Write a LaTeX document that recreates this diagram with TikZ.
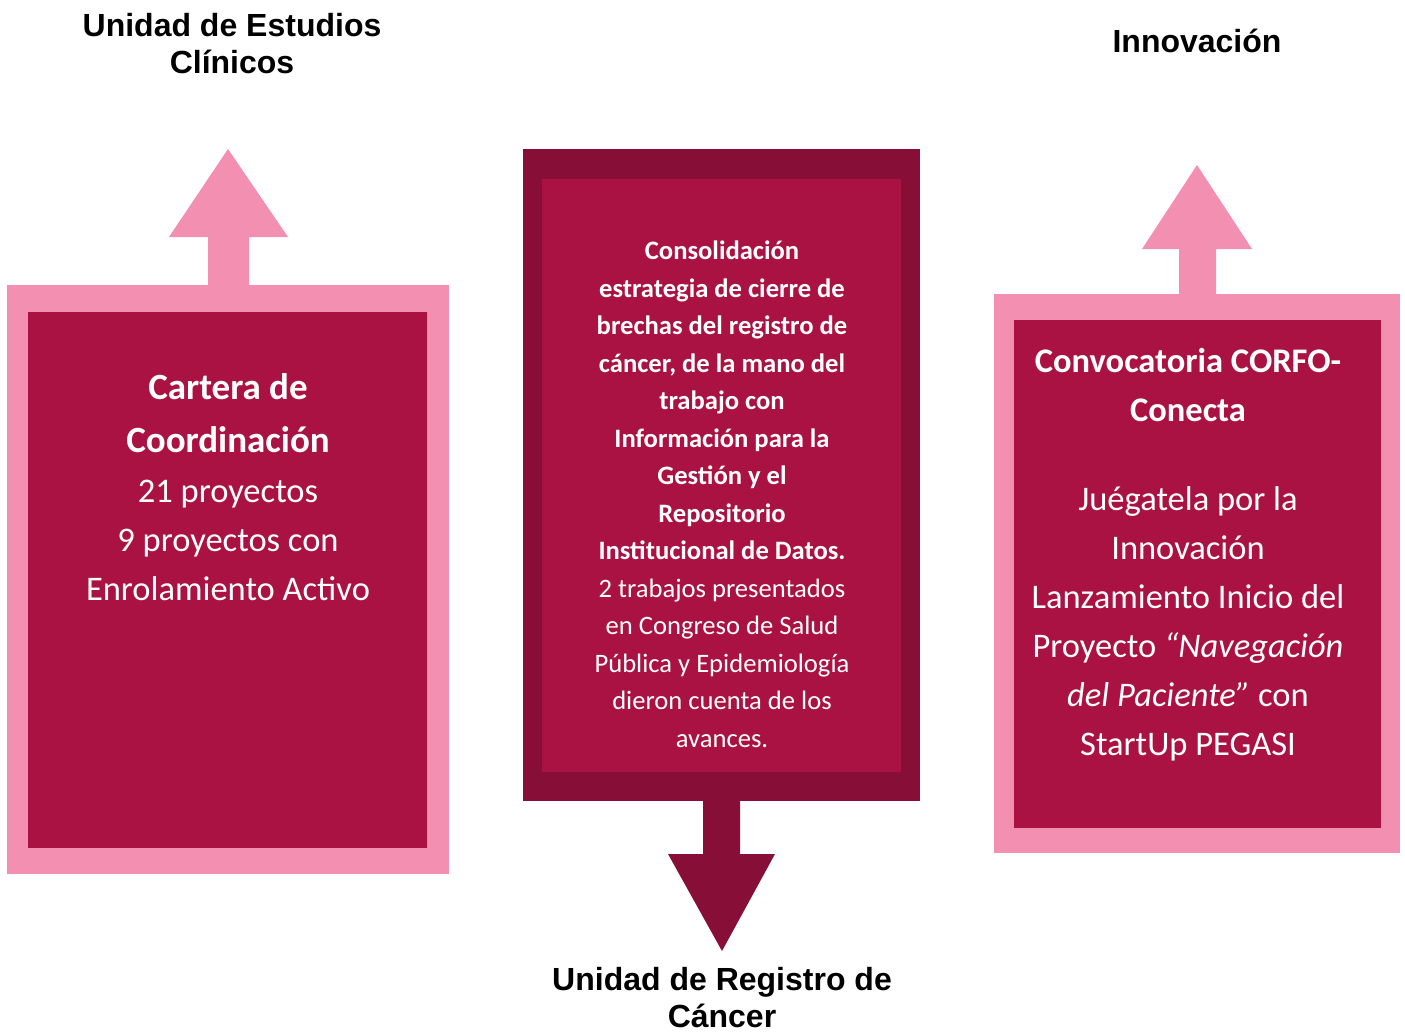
\documentclass[tikz,border=0pt]{standalone}
\usepackage{fontspec}
\setmainfont{Carlito}
\newfontfamily\headfont{Liberation Sans}
\definecolor{pinkc}{HTML}{F38FB0}
\definecolor{crims}{HTML}{AB1244}
\definecolor{darkc}{HTML}{870E36}
\tikzset{
  heading/.style={anchor=base, align=center, text=black, font=\headfont\bfseries\fontsize{32}{37}\selectfont},
  bigtxt/.style={anchor=base, align=center, text=white, font=\fontsize{34.5}{49}\selectfont},
  boldbig/.style={anchor=base, align=center, text=white, font=\bfseries\fontsize{37}{53}\selectfont},
  midtxt/.style={anchor=base, align=center, text=white, font=\fontsize{26.6}{37.5}\selectfont},
}
\begin{document}
\begin{tikzpicture}[x=1pt,y=-1pt]
\useasboundingbox (0,0) rectangle (1405,1031);
% left block
\fill[pinkc] (208,286) -- (208,237) -- (169,237) -- (228,149) -- (288,237) -- (249,237) -- (249,286) -- cycle;
\fill[pinkc] (7,285) rectangle (449,874);
\fill[crims] (28,312) rectangle (427,848);
% middle block
\fill[darkc] (703,800) -- (703,854) -- (668,854) -- (722,951) -- (775,854) -- (740,854) -- (740,800) -- cycle;
\fill[darkc] (523,149) rectangle (920,801);
\fill[crims] (542,179) rectangle (901,772);
% right block
\fill[pinkc] (1179,295) -- (1179,249) -- (1142,249) -- (1197,165) -- (1252,249) -- (1216,249) -- (1216,295) -- cycle;
\fill[pinkc] (994,294) rectangle (1400,853);
\fill[crims] (1014,320) rectangle (1381,828);
% headings (anchor = baseline of last line)
\node[heading] (h1) at (232,73) {Unidad de Estudios\\Clínicos};
\node[heading] (h2) at (1197,52) {Innovación};
\node[heading] (h3) at (722,1027) {Unidad de Registro de\\Cáncer};
% left text
\node[boldbig] (l1) at (228,452) {Cartera de\\Coordinación};
\node[bigtxt] (l2) at (228,600) {21 proyectos\\9 proyectos con\\Enrolamiento Activo};
% middle text
\node[midtxt] (m1) at (722,747) {\textbf{Consolidación}\\\textbf{estrategia de cierre de}\\\textbf{brechas del registro de}\\\textbf{cáncer, de la mano del}\\\textbf{trabajo con}\\\textbf{Información para la}\\\textbf{Gestión y el}\\\textbf{Repositorio}\\\textbf{Institucional de Datos.}\\2 trabajos presentados\\en Congreso de Salud\\Pública y Epidemiología\\dieron cuenta de los\\avances.};
% right text
\node[bigtxt, font=\bfseries\fontsize{34.5}{49}\selectfont] (r1) at (1188,421) {Convocatoria CORFO-\\Conecta};
\node[bigtxt] (r2) at (1188,755) {Juégatela por la\\Innovación\\Lanzamiento Inicio del\\Proyecto \textit{“Navegación}\\\textit{del Paciente”} con\\StartUp PEGASI};
\end{tikzpicture}
\end{document}
